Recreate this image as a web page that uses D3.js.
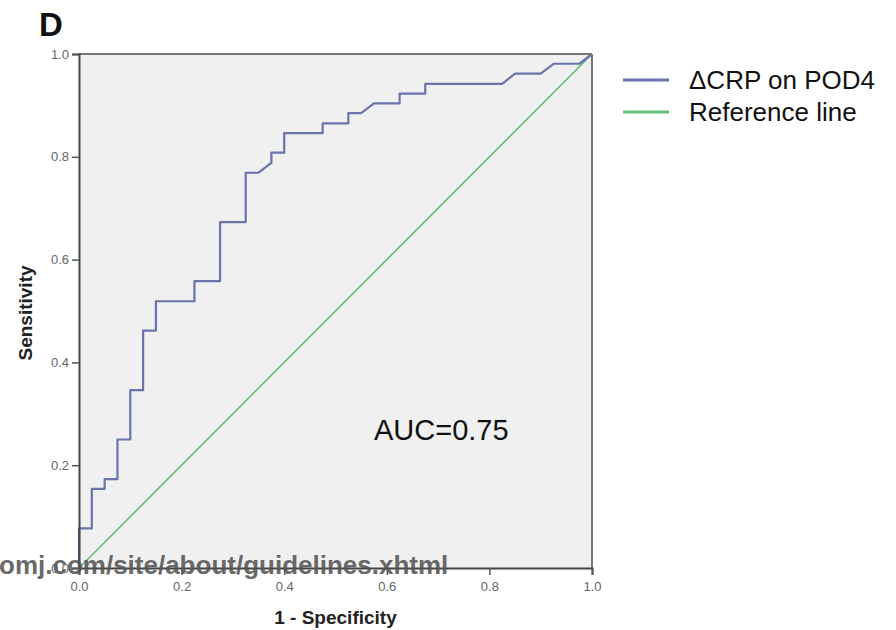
<!DOCTYPE html>
<html><head><meta charset="utf-8">
<script src="https://cdn.jsdelivr.net/npm/d3@7"></script>
<style>html,body{margin:0;padding:0;background:#fff;}svg{display:block;font-family:"Liberation Sans",Arial,sans-serif;}</style>
</head><body>
<script>
// ROC curve vertices (1 - specificity, sensitivity)
const rocFPR = [0,0,0.025,0.025,0.05,0.05,0.075,0.075,0.1,0.1,0.125,0.125,0.15,0.15,0.225,0.225,0.275,0.275,0.325,0.325,0.35,0.375,0.375,0.4,0.4,0.475,0.475,0.525,0.525,0.55,0.575,0.625,0.625,0.675,0.675,0.825,0.85,0.9,0.925,0.975,1];
const rocTPR = [0,0.077,0.077,0.154,0.154,0.173,0.173,0.25,0.25,0.346,0.346,0.462,0.462,0.519,0.519,0.558,0.558,0.673,0.673,0.769,0.769,0.788,0.808,0.808,0.846,0.846,0.865,0.865,0.885,0.885,0.904,0.904,0.923,0.923,0.942,0.942,0.962,0.962,0.981,0.981,1];
const refX = [0,1];
const refY = [0,1];
const tickValues = [0,0.2,0.4,0.6,0.8,1.0];
const seriesNames = ["\u0394CRP on POD4","Reference line"];
const panelLabel = "D";
const xTitle = "1 - Specificity";
const yTitle = "Sensitivity";
const aucText = "AUC=0.75";
const watermark = "omj.com/site/about/guidelines.xhtml";

const W=896,H=630;
const L=79,R=592,T=54,B=568;
const svg=d3.select("body").append("svg").attr("width",W).attr("height",H);
const x=d3.scaleLinear().domain([0,1]).range([L,R]);
const y=d3.scaleLinear().domain([0,1]).range([B,T]);
const colBlue="#6b73ad", colGreen="#62bd72";

svg.append("rect").attr("x",L).attr("y",T).attr("width",R-L).attr("height",B-T).attr("fill","#f0f0f0");

// reference line
const line=d3.line().x(d=>x(d[0])).y(d=>y(d[1]));
svg.append("path").datum(refX.map((v,i)=>[v,refY[i]])).attr("d",line)
  .attr("fill","none").attr("stroke",colGreen).attr("stroke-width",1.6);
// ROC
svg.append("path").datum(rocFPR.map((v,i)=>[v,rocTPR[i]])).attr("d",line)
  .attr("fill","none").attr("stroke",colBlue).attr("stroke-width",2.2).attr("stroke-linejoin","round");

// frame top/right
svg.append("line").attr("x1",L).attr("x2",R).attr("y1",T).attr("y2",T).attr("stroke","#777").attr("stroke-width",2);
svg.append("line").attr("x1",R).attr("x2",R).attr("y1",T).attr("y2",B).attr("stroke","#777").attr("stroke-width",2);

const fmt=d3.format(".1f");
const gy=svg.append("g").attr("transform",`translate(${L},0)`)
  .call(d3.axisLeft(y).tickValues(tickValues).tickFormat(fmt).tickSize(7).tickPadding(3));
const gx=svg.append("g").attr("transform",`translate(0,${B})`)
  .call(d3.axisBottom(x).tickValues(tickValues).tickFormat(fmt).tickSize(7).tickPadding(7));
[gy,gx].forEach(g=>{
  g.select(".domain").attr("stroke","#444").attr("stroke-width",2);
  g.selectAll(".tick line").attr("stroke","#555").attr("stroke-width",1.5);
  g.selectAll(".tick text").attr("fill","#666").style("font-size","13px").style("font-family","Liberation Sans, Arial, sans-serif");
});

// titles
svg.append("text").attr("x",39).attr("y",36).text(panelLabel)
  .style("font-size","33px").style("font-weight","bold").attr("fill","#111");
svg.append("text").attr("transform",`translate(32,${(T+B)/2+2}) rotate(-90)`).attr("text-anchor","middle")
  .text(yTitle).style("font-size","19px").style("font-weight","bold").attr("fill","#222");
svg.append("text").attr("x",(L+R)/2).attr("y",624).attr("text-anchor","middle")
  .text(xTitle).style("font-size","19px").style("font-weight","bold").attr("fill","#222");

// AUC
svg.append("text").attr("x",374).attr("y",440).text(aucText).style("font-size","29px").attr("fill","#111");

// legend
const lg=svg.append("g");
[colBlue,colGreen].forEach((c,i)=>{
  const yy=80+i*32;
  lg.append("line").attr("x1",623).attr("x2",669).attr("y1",yy).attr("y2",yy).attr("stroke",c).attr("stroke-width",3);
  lg.append("text").attr("x",689).attr("y",yy+9).text(seriesNames[i]).style("font-size","26px").attr("fill","#111");
});

// watermark
svg.append("text").attr("x",-1).attr("y",574).text(watermark)
  .style("font-size","26px").style("font-weight","bold").attr("fill","#555").attr("fill-opacity",0.9);
</script>
</body></html>
